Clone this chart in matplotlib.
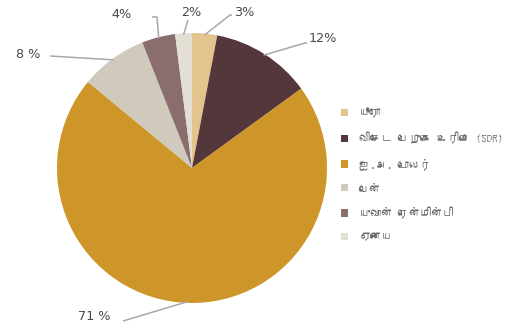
import matplotlib
matplotlib.use("Agg")
import matplotlib.pyplot as plt
import numpy as np
from matplotlib.patches import Patch
from matplotlib import font_manager
from matplotlib.ft2font import FT2Font

labels = ["யூரோ", "விசேட பெறுகை உரிமை (SDR)", "ஐ.அ. டொலர்", "யென்",
          "யுவான் ரென்மின்பி", "ஏனைய"]
values = [3, 12, 71, 8, 4, 2]
pct_text = ["3%", "12%", "71 %", "8 %", "4%", "2%"]
colors = ["#E3C48C", "#54373A", "#CE9529", "#D0CABD", "#8A6E6E", "#E3DFD5"]

# look for an installed font that can draw Tamil
tamil_font = None
for f in font_manager.fontManager.ttflist:
    try:
        if 0x0BAF in FT2Font(f.fname).get_charmap():
            tamil_font = f.name
            break
    except Exception:
        pass
legend_family = [tamil_font, "DejaVu Sans"] if tamil_font else ["DejaVu Sans"]

fig = plt.figure(figsize=(5.23, 3.29), dpi=100)
ax = fig.add_axes([0, 0, 1, 1])

wedges, _ = ax.pie(values, colors=colors, startangle=90, counterclock=False,
                   radius=1.0, wedgeprops=dict(linewidth=0))

# pie() resets the limits, so set them afterwards
ax.set_xlim(-192 / 135, (523 - 192) / 135)
ax.set_ylim((168 - 329) / 135, 168 / 135)
ax.set_aspect("equal")
ax.axis("off")

# label text position (pixels) and elbow points of leader lines (pixels)
label_pos = [(234, 12), (309, 38), (110, 316), (40, 55), (132, 15), (191, 12)]
elbows = [[(230, 15), (232, 15)],
          [(305, 43), (307, 43)],
          [(123, 321)],
          [(50, 56)],
          [(157, 17), (152, 17)],
          [(188, 20)]]
aligns = ["left", "left", "right", "right", "right", "center"]

def px(p):
    return ((p[0] - 192) / 135, (168 - p[1]) / 135)

for w, t, pos, elb, ha in zip(wedges, pct_text, label_pos, elbows, aligns):
    ang = np.deg2rad((w.theta1 + w.theta2) / 2)
    pts = [(0.99 * np.cos(ang), 0.99 * np.sin(ang))] + [px(e) for e in elb]
    xs, ys = zip(*pts)
    ax.plot(xs, ys, color="#A8A8A8", lw=1.1, solid_capstyle="butt")
    tx, ty = px(pos)
    ax.text(tx, ty, t, ha=ha, va="center", fontsize=9.2, color="#4A4A4A")

handles = [Patch(facecolor=c, edgecolor="none") for c in colors]
leg = ax.legend(handles, labels, loc="upper left", bbox_to_anchor=(0.633, 0.703),
                bbox_transform=fig.transFigure, frameon=False,
                handlelength=0.65, handleheight=0.65, handletextpad=1.0,
                labelspacing=1.25, prop={"family": legend_family, "size": 8})
for txt in leg.get_texts():
    txt.set_color("#666666")

plt.savefig("out.png", dpi=100)
